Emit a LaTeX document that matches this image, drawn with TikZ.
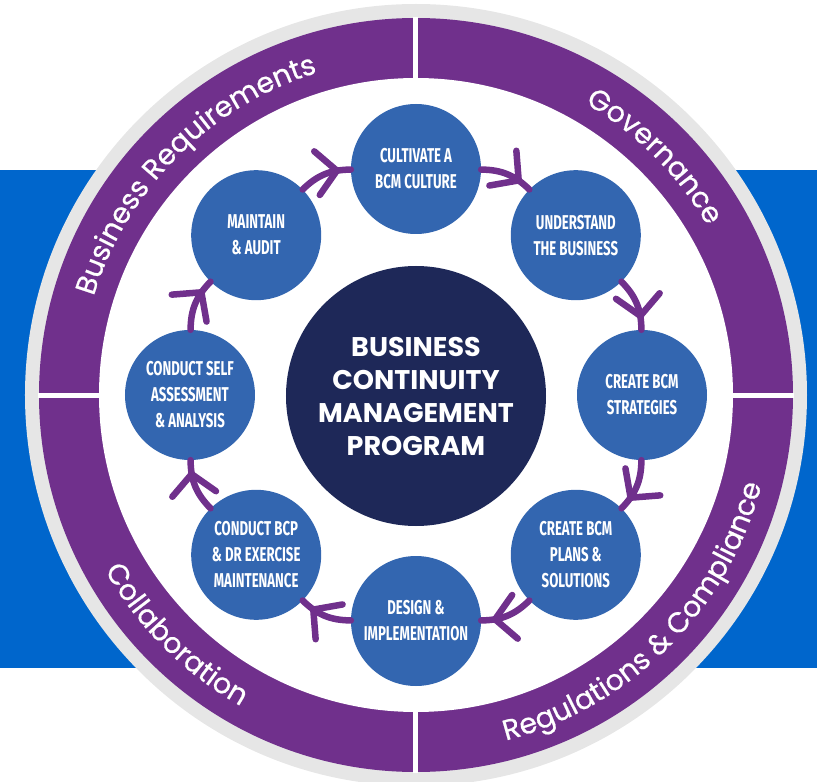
\documentclass[tikz,border=0pt]{standalone}
\usepackage{fontspec}
\usetikzlibrary{arrows.meta,decorations.markings,decorations.text}
\newfontfamily\ringfont[FakeBold=0.6]{Poppins}
\newfontfamily\corefont{Poppins}
\newfontfamily\stepfont[FakeStretch=0.66]{Fira Sans}
\definecolor{bandblue}{RGB}{0,102,204}
\definecolor{ringgray}{RGB}{230,230,230}
\definecolor{ringpurple}{RGB}{112,48,140}
\definecolor{stepblue}{RGB}{51,102,176}
\definecolor{corenavy}{RGB}{30,40,88}

\begin{document}
\begin{tikzpicture}[x=1pt, y=1pt, >=Latex,
  stepnode/.style={circle, fill=stepblue, text=white, minimum size=130pt, inner sep=0pt,
    align=center, font=\stepfont\bfseries\fontsize{20}{26}\selectfont},
  flow/.style={draw=ringpurple, line width=6.5pt, line cap=round, postaction={decorate},
    decoration={markings, mark=at position 0.8 with {\arrow{Straight Barb[length=20pt,width=44pt,round]}}}},
  ringtext/.style={decorate, decoration={text along path, text align=center, text color=white,
    text={|\ringfont\fontsize{28.5}{30}\selectfont|#1}}}]
  \useasboundingbox (-416,-387) rectangle (401,395);

  % Band and ring
  \fill[bandblue] (-416,-273) rectangle (401,225);
  \fill[ringgray] (0,0) circle[radius=391];
  \fill[ringpurple] (0,0) circle[radius=377];
  \fill[white] (0,0) circle[radius=317];
  \draw[white, line width=5pt] (90:315) -- (90:378) (0:315) -- (0:378)
    (180:315) -- (180:378) (270:315) -- (270:378);

  % Ring labels
  \path[ringtext={Business Requirements}] (175:337) arc[start angle=175, end angle=95, radius=337];
  \path[ringtext=Governance] (85:337) arc[start angle=85, end angle=5, radius=337];
  \path[ringtext={Regulations {\&} Compliance}] (-100:357) arc[start angle=-100, end angle=10, radius=357];
  \path[ringtext=Collaboration] (-180:357) arc[start angle=-180, end angle=-90, radius=357];

  % Program
  \node[circle, fill=corenavy, text=white, minimum size=260pt, align=center,
    font=\corefont\bfseries\fontsize{27}{33}\selectfont] (core) at (0,-1)
    {BUSINESS\\CONTINUITY\\MANAGEMENT\\PROGRAM};

  % Steps
  \node[stepnode] (cult) at (90:226) {CULTIVATE A\\BCM CULTURE};
  \node[stepnode] (under) at (45:226) {UNDERSTAND\\THE BUSINESS};
  \node[stepnode] (strat) at (0:226) {CREATE BCM\\STRATEGIES};
  \node[stepnode] (plans) at (-45:226) {CREATE BCM\\PLANS \&\\SOLUTIONS};
  \node[stepnode] (design) at (-90:226) {DESIGN \&\\IMPLEMENTATION};
  \node[stepnode] (exer) at (-135:226) {CONDUCT BCP\\\& DR EXERCISE\\MAINTENANCE};
  \node[stepnode] (self) at (180:226) {CONDUCT SELF\\ASSESSMENT\\\& ANALYSIS};
  \node[stepnode] (maint) at (135:226) {MAINTAIN\\\& AUDIT};

  % Cycle
  \draw[flow] (cult) to[bend left=22] (under);
  \draw[flow] (under) to[bend left=22] (strat);
  \draw[flow] (strat) to[bend left=22] (plans);
  \draw[flow] (plans) to[bend left=22] (design);
  \draw[flow] (design) to[bend left=22] (exer);
  \draw[flow] (exer) to[bend left=22] (self);
  \draw[flow] (self) to[bend left=22] (maint);
  \draw[flow] (maint) to[bend left=22] (cult);
\end{tikzpicture}
\end{document}
